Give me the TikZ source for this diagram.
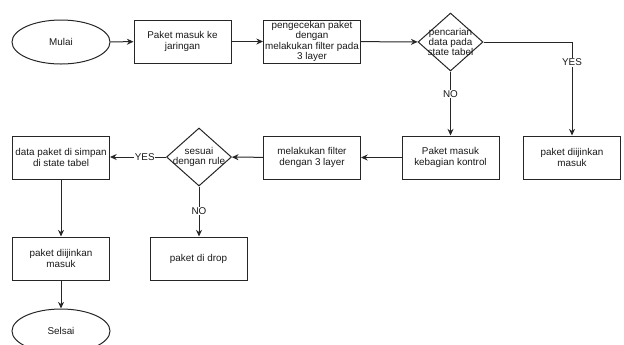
\documentclass[tikz,border=0pt]{standalone}
\usepackage{fontspec}
\setmainfont{Liberation Sans}
\usetikzlibrary{shapes.geometric,arrows.meta}
\begin{document}
\begin{tikzpicture}[x=0.75pt,y=-0.75pt,
  base/.style={draw=black!85,line width=0.75pt,text=black!90,font=\fontsize{7.4pt}{7.8pt}\selectfont,align=center,inner sep=0pt},
  box/.style={base,rectangle,minimum width=72.75pt,minimum height=32.25pt},
  oval/.style={base,ellipse,minimum width=73.5pt,minimum height=33pt},
  dec/.style={base,diamond,minimum width=48.75pt,minimum height=43.5pt},
  lbl/.style={fill=white,inner sep=0.5pt,text=black!90,font=\fontsize{7.4pt}{7.8pt}\selectfont},
  arr/.style={draw=black!85,line width=0.75pt,-{Stealth[length=5pt,width=4.5pt]}}
]
\useasboundingbox (0,0) rectangle (624,344);
\node[oval] (mulai) at (61,42) {Mulai};
\node[box] (p1) at (182.5,41.5) {Paket masuk ke\\jaringan};
\node[box] (p2) at (312,41.5) {pengecekan paket\\dengan\\melakukan filter pada\\3 layer};
\node[dec,label={[base,draw=none]center:pencarian\\data pada\\state tabel}] (d1) at (450.5,42) {};
\node[box] (p3) at (450.5,157.5) {Paket masuk\\kebagian kontrol};
\node[box] (p4) at (572,157.5) {paket diijinkan\\masuk};
\node[box] (p5) at (312,157.5) {melakukan filter\\dengan 3 layer};
\node[dec,label={[base,draw=none]center:sesuai\\dengan rule}] (d2) at (199,157) {};
\node[box] (p6) at (61,157.5) {data paket di simpan\\di state tabel};
\node[box] (p7) at (198.5,258.5) {paket di drop};
\node[box] (p8) at (61,258.5) {paket diijinkan\\masuk};
\node[oval] (sel) at (61,331) {Selsai};

\draw[arr] (mulai) -- (p1);
\draw[arr] (p1) -- (p2);
\draw[arr] (p2) -- (d1);
\draw[arr] (d1.east) -| node[lbl,pos=0.61] {YES} (p4.north);
\draw[arr] (d1.south) -- node[lbl,pos=0.35] {NO} (p3.north -| d1.south);
\draw[arr] (p3) -- (p5);
\draw[arr] (p5) -- (d2);
\draw[arr] (d2.west) -- node[lbl,pos=0.38] {YES} (p6.east |- d2.west);
\draw[arr] (d2.south) -- node[lbl,pos=0.49] {NO} (p7.north -| d2.south);
\draw[arr] (p6) -- (p8);
\draw[arr] (p8) -- (sel);
\end{tikzpicture}
\end{document}
